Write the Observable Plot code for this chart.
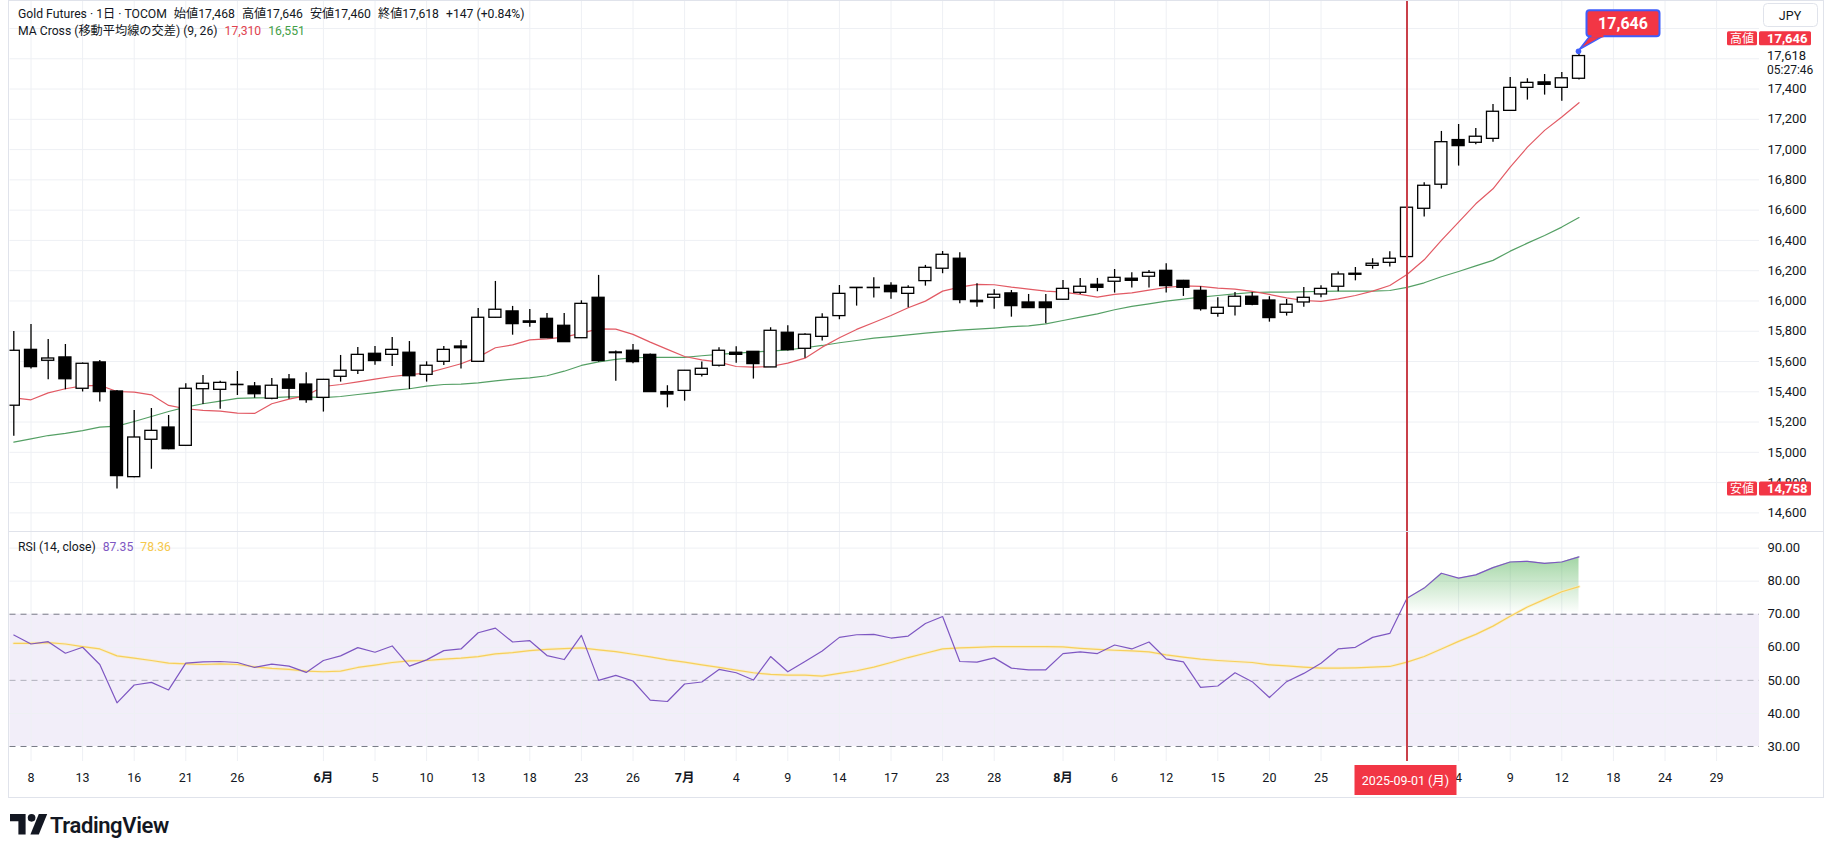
<!DOCTYPE html>
<html><head><meta charset="utf-8">
<script src="https://cdn.jsdelivr.net/npm/d3@7"></script>
<script src="https://cdn.jsdelivr.net/npm/@observablehq/plot@0.6"></script>
<style>
html,body{margin:0;padding:0;background:#fff;}
body{width:1831px;height:845px;overflow:hidden;font-family:Roboto,"Noto Sans CJK JP",sans-serif;color:#131722;}
#root{position:relative;width:1831px;height:845px;}
.leg{position:absolute;font-size:12.2px;white-space:nowrap;line-height:16px;display:flex;gap:7px;}
</style></head><body><div id="root"></div>
<script>
// ---------- DATA ----------
const tradingDays = [
 "2025-05-07","2025-05-08","2025-05-09","2025-05-12","2025-05-13","2025-05-14","2025-05-15","2025-05-16","2025-05-19","2025-05-20","2025-05-21","2025-05-22","2025-05-23","2025-05-26","2025-05-27","2025-05-28","2025-05-29","2025-05-30",
 "2025-06-02","2025-06-03","2025-06-04","2025-06-05","2025-06-06","2025-06-09","2025-06-10","2025-06-11","2025-06-12","2025-06-13","2025-06-16","2025-06-17","2025-06-18","2025-06-19","2025-06-20","2025-06-23","2025-06-24","2025-06-25","2025-06-26","2025-06-27","2025-06-30",
 "2025-07-01","2025-07-02","2025-07-03","2025-07-04","2025-07-07","2025-07-08","2025-07-09","2025-07-10","2025-07-11","2025-07-14","2025-07-15","2025-07-16","2025-07-17","2025-07-18","2025-07-22","2025-07-23","2025-07-24","2025-07-25","2025-07-28","2025-07-29","2025-07-30","2025-07-31",
 "2025-08-01","2025-08-04","2025-08-05","2025-08-06","2025-08-07","2025-08-08","2025-08-12","2025-08-13","2025-08-14","2025-08-15","2025-08-18","2025-08-19","2025-08-20","2025-08-21","2025-08-22","2025-08-25","2025-08-26","2025-08-27","2025-08-28","2025-08-29",
 "2025-09-01","2025-09-02","2025-09-03","2025-09-04","2025-09-05","2025-09-08","2025-09-09","2025-09-10","2025-09-11","2025-09-12","2025-09-16"];
const futureDays = ["2025-09-17","2025-09-18","2025-09-19","2025-09-22","2025-09-24","2025-09-25","2025-09-26","2025-09-29","2025-09-30"];

const open = [15308,15677,15605,15627,15420,15594,15402,14836,15083,15164,15043,15417,15413,15444,15435,15354,15481,15448,15360,15499,15539,15651,15644,15658,15512,15598,15699,15598,15889,15931,15865,15882,15836,15754,16021,15660,15671,15644,15398,15406,15512,15572,15658,15664,15561,15790,15684,15763,15900,16085,16085,16100,16047,16131,16213,16279,16001,16021,16050,15990,15990,16008,16054,16107,16127,16147,16160,16199,16133,16067,15915,15962,16028,16003,15922,15990,16043,16094,16180,16232,16252,16290,16609,16768,17063,17045,17071,17256,17408,17444,17408,17468];
const high = [15798,15845,15746,15713,15590,15607,15409,15277,15290,15243,15453,15508,15470,15534,15461,15488,15514,15525,15482,15640,15693,15699,15759,15732,15598,15699,15739,15950,16129,15964,15944,15917,15917,16001,16169,15669,15713,15650,15440,15541,15596,15691,15697,15666,15823,15836,15783,15915,16102,16089,16153,16120,16100,16235,16327,16318,16113,16074,16069,16043,16043,16136,16149,16149,16208,16186,16202,16246,16136,16094,16021,16056,16056,16028,16010,16089,16100,16191,16221,16279,16325,16620,16781,17120,17166,17140,17298,17477,17468,17496,17510,17646];
const low = [15107,15550,15479,15413,15398,15332,14758,14832,14889,15017,15040,15316,15285,15376,15358,15347,15351,15325,15266,15464,15514,15576,15567,15415,15464,15574,15550,15596,15887,15774,15827,15752,15726,15752,15596,15470,15585,15396,15294,15338,15497,15563,15589,15484,15560,15669,15622,15735,15876,15966,16019,16012,15955,16098,16180,15981,15959,15946,15893,15952,15849,16005,16043,16061,16052,16085,16085,16052,16030,15933,15893,15900,15968,15860,15900,15959,16021,16061,16133,16210,16224,16283,16554,16739,16891,17032,17049,17254,17327,17360,17320,17460];
const close = [15671,15563,15620,15483,15585,15398,14843,15098,15142,15021,15420,15453,15459,15446,15384,15440,15420,15345,15479,15539,15644,15603,15677,15503,15572,15677,15688,15889,15942,15847,15856,15754,15728,15981,15603,15655,15596,15398,15382,15539,15552,15671,15644,15583,15803,15675,15777,15889,16047,16087,16087,16058,16087,16219,16305,16006,15992,16041,15966,15953,15953,16080,16094,16087,16153,16133,16186,16098,16087,15946,15955,16028,15975,15887,15975,16021,16080,16175,16173,16246,16279,16616,16761,17049,17023,17085,17250,17408,17441,17428,17471,17618];

const ma9 = [15360,15347,15393,15420,15439,15442,15402,15398,15380,15310,15288,15277,15272,15259,15257,15321,15351,15375,15435,15448,15466,15484,15501,15514,15523,15554,15585,15629,15691,15710,15743,15750,15761,15788,15816,15814,15779,15728,15680,15633,15611,15596,15567,15563,15567,15589,15622,15695,15757,15812,15858,15904,15955,15999,16065,16091,16109,16107,16091,16078,16065,16058,16043,16025,16043,16054,16072,16089,16100,16096,16085,16078,16063,16043,16021,16003,15997,16014,16036,16065,16102,16175,16272,16400,16521,16642,16741,16884,17016,17127,17215,17310];
const ma26 = [15067,15089,15111,15125,15144,15166,15173,15204,15237,15270,15299,15321,15338,15356,15360,15362,15367,15367,15362,15369,15382,15395,15409,15420,15437,15448,15450,15459,15472,15484,15492,15506,15536,15574,15598,15614,15625,15627,15627,15627,15638,15647,15655,15662,15669,15677,15691,15706,15724,15739,15754,15765,15776,15787,15798,15807,15814,15821,15830,15836,15849,15871,15893,15915,15942,15964,15981,15999,16012,16025,16036,16047,16056,16058,16058,16061,16063,16065,16065,16065,16069,16090,16120,16160,16195,16232,16268,16329,16382,16433,16488,16551];

const rsi = [63.7,61.0,61.7,58.2,60.0,54.8,43.2,48.6,49.4,47.1,55.2,55.6,55.7,55.4,53.9,54.9,54.3,52.4,56.0,57.4,59.9,58.5,60.4,54.3,56.2,59.0,59.5,64.4,65.8,61.6,62.0,57.5,56.3,63.6,50.0,51.5,49.8,44.0,43.6,48.9,49.5,53.3,52.3,50.1,57.2,52.6,55.7,58.9,63.0,63.8,63.9,62.8,63.4,67.2,69.3,55.7,55.5,56.8,53.7,53.2,53.2,58.1,58.6,58.1,60.7,59.5,61.6,56.5,55.6,47.9,48.3,52.3,49.6,44.8,49.6,52.1,55.2,59.5,60.0,63.0,64.2,74.8,77.9,82.4,80.9,81.9,84.1,85.8,86.0,85.4,85.8,87.35];
const rsiMA = [61.2,61.2,61.4,61.0,60.2,59.5,57.4,56.7,56.0,55.2,55.0,54.8,55.0,54.8,54.1,53.6,53.3,52.8,52.6,52.8,53.9,54.6,55.4,55.9,56.0,56.4,56.7,57.2,58.0,58.4,59.0,59.4,59.6,59.8,59.2,58.7,57.9,57.1,56.2,55.5,54.7,53.9,53.1,52.3,51.8,51.6,51.6,51.3,52.1,52.9,54.0,55.4,56.9,58.2,59.5,59.8,60.0,60.2,60.2,60.2,60.2,60.1,59.7,59.4,59.1,58.9,58.6,57.7,57.0,56.4,56.0,55.7,55.4,54.7,54.4,54.0,53.7,53.7,53.8,54.0,54.2,55.5,57.2,59.5,61.8,63.9,66.4,69.4,72.2,74.5,76.8,78.36];

// time-axis ticks (Sep 1 carries the date tag instead of a month label)
const tickDates = ["2025-05-08","2025-05-13","2025-05-16","2025-05-21","2025-05-26","2025-06-02","2025-06-05","2025-06-10","2025-06-13","2025-06-18","2025-06-23","2025-06-26","2025-07-01","2025-07-04","2025-07-09","2025-07-14","2025-07-17","2025-07-23","2025-07-28","2025-08-01","2025-08-06","2025-08-12","2025-08-15","2025-08-20","2025-08-25","2025-09-01","2025-09-04","2025-09-09","2025-09-12","2025-09-18","2025-09-24","2025-09-29"];
const tickLabels = ["8","13","16","21","26","6月","5","10","13","18","23","26","7月","4","9","14","17","23","28","8月","6","12","15","20","25","","4","9","12","18","24","29"];

const priceTicks = [14600,14800,15000,15200,15400,15600,15800,16000,16200,16400,16600,16800,17000,17200,17400];
const priceGrid = [14600,14800,15000,15200,15400,15600,15800,16000,16200,16400,16600,16800,17000,17200,17400,17600,17800];
const rsiTicks = [30,40,50,60,70,80,90];
const rsiGrid = [40,60,80,90];
const rsiBand = [{lo:30, hi:70}];
const rsiLevels = [30,70];
const rsiMid = [50];
const markerDate = "2025-09-01";
const markerLabel = "2025-09-01 (月)";
const clockText = "05:27:46";

// ---------- BUILD ----------
const allDays = tradingDays.concat(futureDays);
const rows = tradingDays.map((d,i)=>({i, date:d, open:open[i], high:high[i], low:low[i], close:close[i], ma9:ma9[i], ma26:ma26[i], rsi:rsi[i], rsiMA:rsiMA[i]}));
const tickIdx = tickDates.map(d=>allDays.indexOf(d));
const labelMap = new Map(tickIdx.map((t,k)=>[t,tickLabels[k]]));
const shown = tickIdx.filter(t=>labelMap.get(t) !== "");
const monthTicks = shown.filter(t=>labelMap.get(t).includes("月"));
const dayTicks = shown.filter(t=>!labelMap.get(t).includes("月"));
const markerIdx = allDays.indexOf(markerDate);
const last = rows[rows.length-1];

const W = 1831, FL = 9.5, FR = 1759;
const step = 17.2, first = 13.3;
const xDomain = [(FL-first)/step, (FR-first)/step];
const gridC = "#eef0f4";
const font = 'Roboto,"Noto Sans CJK JP",sans-serif';
const fmt = d3.format(",");

const root = document.getElementById("root");

const pricePlot = Plot.plot({
  width: W, height: 531,
  marginLeft: FL, marginRight: W-FR, marginTop: 0, marginBottom: 0,
  style: {fontFamily: font, fontSize: "13px", color: "#131722", background: "transparent", overflow: "visible"},
  x: {domain: xDomain, axis: null},
  y: {domain: [14477, 17985], axis: null},
  marks: [
    Plot.ruleY(priceGrid, {stroke: gridC, strokeWidth: 1}),
    Plot.ruleX(tickIdx, {stroke: gridC, strokeWidth: 1}),
    Plot.line(rows, {x:"i", y:"ma26", stroke:"#55a065", strokeWidth:1.2, clip:true}),
    Plot.line(rows, {x:"i", y:"ma9", stroke:"#e25a64", strokeWidth:1.2, clip:true}),
    Plot.ruleX(rows, {x:"i", y1:"low", y2:"high", stroke:"#000", strokeWidth:1.3, clip:true}),
    Plot.rect(rows, {x1: d=>d.i-0.35, x2: d=>d.i+0.35, y1:"open", y2:"close", fill: d=>d.close>=d.open?"#fff":"#000", stroke:"#000", strokeWidth:1.3, clip:true}),
    Plot.ruleX([markerIdx], {stroke:"#c9404a", strokeWidth:2}),
    Plot.axisY(priceTicks, {anchor:"right", label:null, tickSize:0, tickPadding:8, textAnchor:"start", tickFormat: fmt, fontSize:13, fill:"#131722"})
  ]
});

const rsiPlot = Plot.plot({
  width: W, height: 266,
  marginLeft: FL, marginRight: W-FR, marginTop: 0, marginBottom: 36,
  style: {fontFamily: font, fontSize: "13px", color: "#131722", background: "transparent", overflow: "visible"},
  x: {domain: xDomain, axis: null},
  y: {domain: [25.46, 95.02], axis: null},
  marks: [
    Plot.rect(rsiBand, {y1:"lo", y2:"hi", fill:"#7e57c2", fillOpacity:0.1}),
    Plot.ruleY(rsiGrid, {stroke: gridC}),
    Plot.ruleX(tickIdx, {stroke: gridC}),
    Plot.ruleY(rsiLevels, {stroke:"#787b86", strokeDasharray:"6,5", strokeWidth:1}),
    Plot.ruleY(rsiMid, {stroke:"#787b86", strokeOpacity:0.55, strokeDasharray:"6,5", strokeWidth:1}),
    Plot.areaY(rows.filter(d=>d.rsi>70), {x:"i", y1:70, y2:"rsi", fill:"url(#obGrad)"}),
    Plot.line(rows, {x:"i", y:"rsiMA", stroke:"#fcecb8", strokeWidth:3, strokeOpacity:0.55, clip:true}),
    Plot.line(rows, {x:"i", y:"rsiMA", stroke:"#f7cf5b", strokeWidth:1.2, clip:true}),
    Plot.line(rows, {x:"i", y:"rsi", stroke:"#7e57c2", strokeWidth:1.2, clip:true}),
    Plot.ruleX([markerIdx], {stroke:"#c9404a", strokeWidth:2}),
    Plot.axisY(rsiTicks, {anchor:"right", label:null, tickSize:0, tickPadding:8, textAnchor:"start", tickFormat: d=>d.toFixed(2), fontSize:13, fill:"#131722"}),
    Plot.axisX(dayTicks, {anchor:"bottom", label:null, tickSize:0, tickPadding:12, tickFormat: d=>labelMap.get(d), fontSize:12.5, fill:"#131722"}),
    Plot.axisX(monthTicks, {anchor:"bottom", label:null, tickSize:0, tickPadding:12, tickFormat: d=>labelMap.get(d), fontSize:12.5, fontWeight:"bold", fill:"#131722"})
  ]
});

// gradient for overbought fill
{
  const ys = rsiPlot.scale("y");
  const svg = d3.select(rsiPlot);
  svg.insert("defs", ":first-child").html(
    `<linearGradient id="obGrad" gradientUnits="userSpaceOnUse" x1="0" x2="0" y1="${ys.apply(100)}" y2="${ys.apply(70)}">
       <stop offset="0" stop-color="rgb(76,175,80)" stop-opacity="0.9"/>
       <stop offset="1" stop-color="rgb(76,175,80)" stop-opacity="0"/>
     </linearGradient>`);
}

function place(el, top){ el.style.position="absolute"; el.style.left="0px"; el.style.top=top+"px"; root.appendChild(el); }
place(pricePlot, 0);
place(rsiPlot, 531);

// ---------- overlay (frame, tags, callout, logo) ----------
const ov = d3.select(root).append("svg").attr("width", W).attr("height", 845)
  .style("position","absolute").style("left","0px").style("top","0px").style("font-family", font);

ov.append("rect").attr("x",8.5).attr("y",0.5).attr("width",1815).attr("height",797).attr("fill","none").attr("stroke","#e0e3eb");
ov.append("line").attr("x1",8.5).attr("x2",1823.5).attr("y1",531.5).attr("y2",531.5).attr("stroke","#e0e3eb");

const px = pricePlot.scale("x"), py = pricePlot.scale("y"), rx = rsiPlot.scale("x");

function tag(yc, label, value){
  ov.append("rect").attr("x",1727).attr("y",yc-7).attr("width",30).attr("height",14).attr("rx",1.5).attr("fill","#f23645");
  ov.append("text").attr("x",1742).attr("y",yc).attr("dy","0.36em").attr("text-anchor","middle").attr("fill","#fff").attr("font-size",12).text(label);
  ov.append("rect").attr("x",1759).attr("y",yc-7).attr("width",52).attr("height",14).attr("rx",1.5).attr("fill","#f23645");
  ov.append("text").attr("x",1767).attr("y",yc).attr("dy","0.36em").attr("fill","#fff").attr("font-size",13).attr("font-weight","bold").text(value);
}
tag(py.apply(last.high)-13, "高値", fmt(last.high));
tag(py.apply(d3.min(low)), "安値", fmt(d3.min(low)));
ov.append("text").attr("x",1767).attr("y",py.apply(last.close)).attr("dy","0.36em").attr("font-size",13).attr("fill","#131722").text(fmt(last.close));
ov.append("text").attr("x",1767).attr("y",py.apply(last.close)+14).attr("dy","0.36em").attr("font-size",12).attr("fill","#131722").text(clockText);

ov.append("rect").attr("x",1763.5).attr("y",3.5).attr("width",54).attr("height",23).attr("rx",4).attr("fill","#fff").attr("stroke","#e0e3eb");
ov.append("text").attr("x",1790).attr("y",15).attr("dy","0.36em").attr("text-anchor","middle").attr("font-size",12.5).attr("fill","#131722").text("JPY");

{
  const cx = px.apply(last.i), cy = py.apply(last.high);
  const bx = cx+8, by = cy-41, bw = 73, bh = 26;
  ov.append("path").attr("d",`M${bx+4},${by+bh-1} L${cx+1},${cy-2} L${bx+18},${by+bh-1} Z`).attr("fill","#f23645").attr("stroke","#3f5efb").attr("stroke-width",1.5);
  ov.append("rect").attr("x",bx).attr("y",by).attr("width",bw).attr("height",bh).attr("rx",3).attr("fill","#f23645").attr("stroke","#3f5efb").attr("stroke-width",2);
  ov.append("rect").attr("x",bx+5).attr("y",by+bh-3).attr("width",12).attr("height",4).attr("fill","#f23645");
  ov.append("text").attr("x",bx+bw/2).attr("y",by+bh/2).attr("dy","0.36em").attr("text-anchor","middle").attr("fill","#fff").attr("font-size",16).attr("font-weight","bold").text(fmt(last.high));
  ov.append("circle").attr("cx",cx).attr("cy",cy).attr("r",2.8).attr("fill","#3f5efb");
}

{
  const mx = rx.apply(markerIdx);
  ov.append("rect").attr("x",mx-52).attr("y",765).attr("width",102).attr("height",30).attr("fill","#f23645");
  ov.append("text").attr("x",mx-1).attr("y",780).attr("dy","0.36em").attr("text-anchor","middle").attr("fill","#fff").attr("font-size",12.5).text(markerLabel);
}

// TradingView logo
{
  const g = ov.append("g").attr("transform","translate(10,814) scale(1.2)");
  g.append("path").attr("d","M0 0 H13 V17 H7 V6 H0 Z").attr("fill","#131722");
  g.append("circle").attr("cx",18).attr("cy",3.2).attr("r",3.2).attr("fill","#131722");
  g.append("path").attr("d","M24 0 H31 L24 17 H17 Z").attr("fill","#131722");
  ov.append("text").attr("x",50).attr("y",825).attr("dy","0.36em").attr("font-size",22).attr("font-weight",600).attr("fill","#131722").attr("letter-spacing","-0.4").text("TradingView");
}

// ---------- legends ----------
function legend(top, parts){
  const div = document.createElement("div");
  div.className = "leg"; div.style.left = "18px"; div.style.top = top+"px";
  parts.forEach(([t,c])=>{ const s=document.createElement("span"); s.textContent=t; s.style.color=c; div.appendChild(s); });
  root.appendChild(div);
}
const prev = close[close.length-2];
const chg = last.close - prev;
legend(6, [["Gold Futures · 1日 · TOCOM","#131722"],["始値"+fmt(last.open),"#131722"],["高値"+fmt(last.high),"#131722"],["安値"+fmt(last.low),"#131722"],["終値"+fmt(last.close),"#131722"],["+"+chg+" (+"+(chg/prev*100).toFixed(2)+"%)","#131722"]]);
legend(23, [["MA Cross (移動平均線の交差) (9, 26)","#131722"],[fmt(last.ma9),"#e0434f"],[fmt(last.ma26),"#43a047"]]);
legend(539, [["RSI (14, close)","#131722"],[last.rsi.toFixed(2),"#7e57c2"],[last.rsiMA.toFixed(2),"#f5c84c"]]);
</script>
</body></html>
